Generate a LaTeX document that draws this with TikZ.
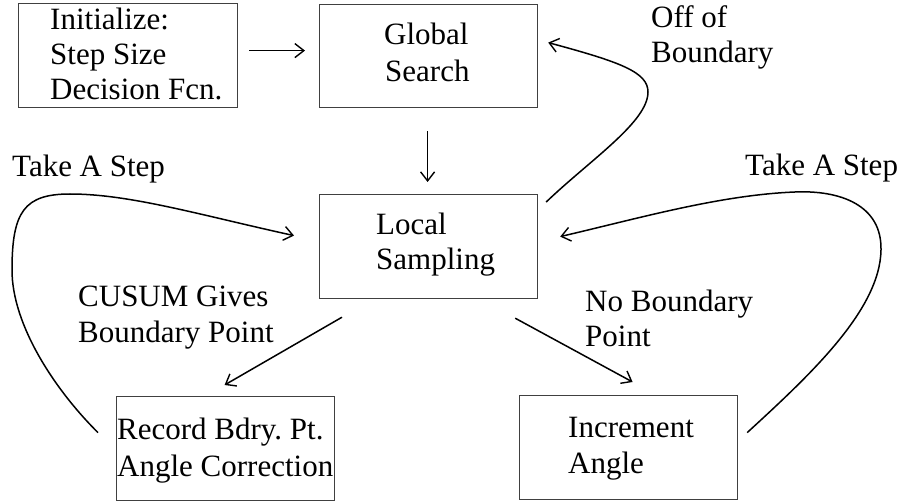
\documentclass[tikz,border=0pt]{standalone}
\usepackage{fontspec}
\setmainfont{Liberation Serif}
\usetikzlibrary{arrows.meta}
\frenchspacing
\begin{document}
\begin{tikzpicture}[x=1pt,y=-1pt,
  box/.style={draw=black!75, line width=1.2pt, inner sep=0pt, anchor=north west, minimum width=218pt, minimum height=104pt},
  txt/.style={inner sep=0pt, anchor=base west, font=\fontsize{31}{36}\selectfont},
  conn/.style={line width=1.5pt, -{Straight Barb[length=9pt,width=14pt,line width=1.4pt]}}]
\useasboundingbox (0,0) rectangle (902,502);
\fill[white] (0,0) rectangle (902,502);
% boxes
\node[box, minimum width=219pt] (init) at (18,3) {};
\node[box, minimum height=103pt] (global) at (319,4) {};
\node[box] (local) at (319,194) {};
\node[box] (record) at (116,396) {};
\node[box] (incr) at (519,395) {};
% box texts
\node[txt] (i1) at (50,30) {Initialize:};
\node[txt] (i2) at (50,65) {Step Size};
\node[txt] (i3) at (50,100) {Decision Fcn.};
\node[txt] (g1) at (384,45) {Global};
\node[txt] (g2) at (385,82) {Search};
\node[txt] (l1) at (376,235) {Local};
\node[txt] (l2) at (376,270) {Sampling};
\node[txt] (r1) at (117,439) {Record Bdry. Pt.};
\node[txt] (r2) at (117,476) {Angle Correction};
\node[txt] (n1) at (568,437) {Increment};
\node[txt] (n2) at (568,473) {Angle};
% labels
\node[txt] (o1) at (651,28) {Off of};
\node[txt] (o2) at (651,63) {Boundary};
\node[txt] (tl) at (12,177) {Take A Step};
\node[txt] (tr) at (745,176) {Take A Step};
\node[txt] (c1) at (78,307) {CUSUM Gives};
\node[txt] (c2) at (78,343) {Boundary Point};
\node[txt] (b1) at (585,312) {No Boundary};
\node[txt] (b2) at (585,347) {Point};
% straight connectors
\draw[conn] ([shift={(11,-5)}]init.east) -- ([shift={(-14,-5.5)}]global.west);
\draw[conn] ([shift={(-1,23)}]global.south) -- ([shift={(-1,-12)}]local.north);
\draw[conn] ([shift={(23,18)}]local.south west) -- ([shift={(-1,-11)}]record.north);
\draw[conn] ([shift={(-23,19)}]local.south east) -- ([shift={(4,-13)}]incr.north);
% left loop: record -> local
\draw[conn] ([shift={(-18,-16)}]record.west)
  .. controls (55,390) and (12,325) .. (12,270)
  .. controls (12,212) and (24,194) .. (70,194)
  .. controls (130,194) and (200,215) .. ([shift={(-25,-11)}]local.west);
% right loop: incr -> local
\draw[conn] ([shift={(9,-15)}]incr.east)
  .. controls (810,375) and (880,310) .. (881,250)
  .. controls (882,205) and (840,190) .. (795,192)
  .. controls (720,195) and (640,218) .. ([shift={(22,-10)}]local.east);
% local -> global (off of boundary)
\draw[conn] ([shift={(8,8)}]local.north east)
  .. controls (590,160) and (648,122) .. (648,92)
  .. controls (648,72) and (620,62) .. ([shift={(10,-13.5)}]global.east);
\end{tikzpicture}
\end{document}
